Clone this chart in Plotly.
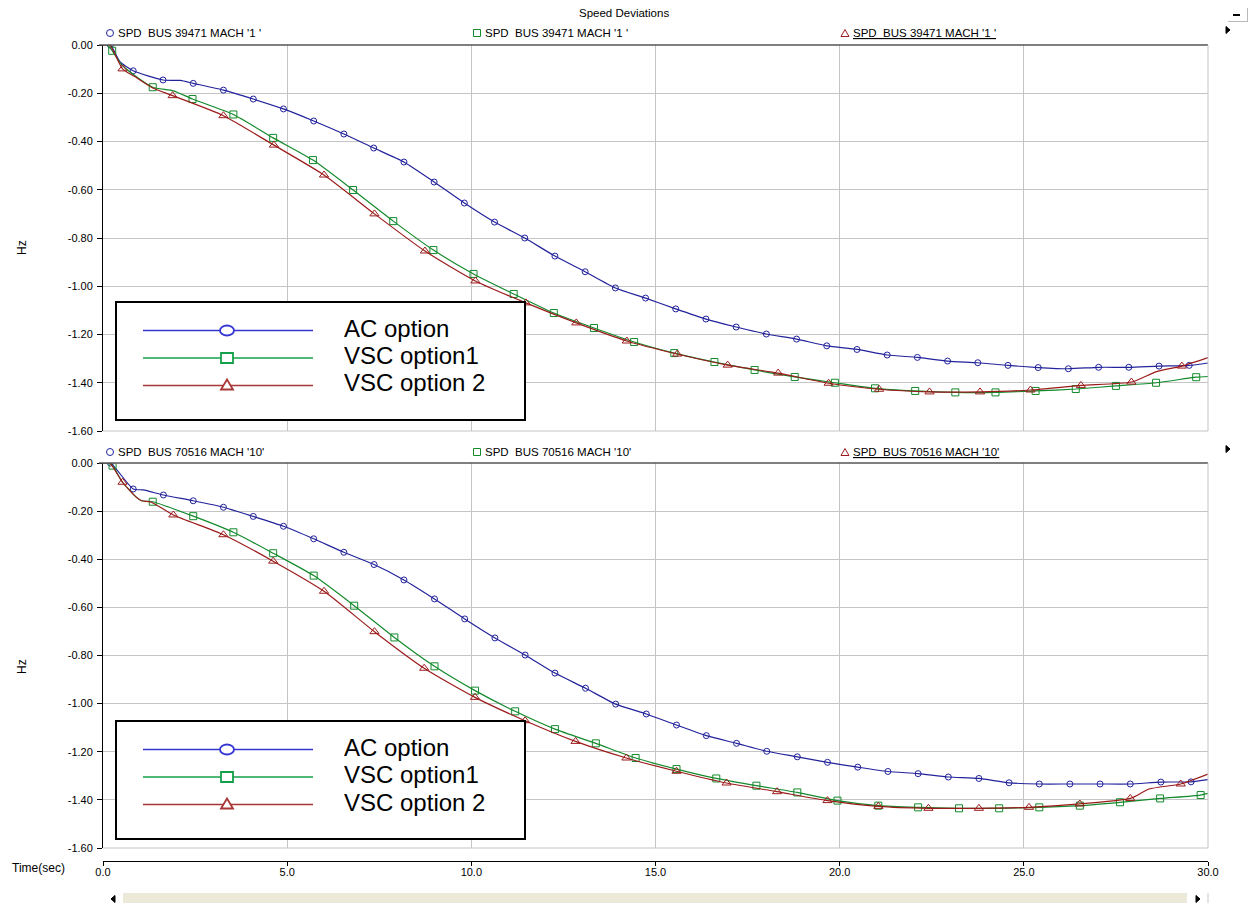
import plotly.graph_objects as go

W, H = 1249, 907          # window size in pixels
FW, FH = 1249, 903        # figure size

# ---------------- axis ticks ----------------
X_TICKS = [0, 5, 10, 15, 20, 25, 30]
X_TICK_TEXT = ["0.0", "5.0", "10.0", "15.0", "20.0", "25.0", "30.0"]
Y_TICKS = [0.0, -0.2, -0.4, -0.6, -0.8, -1.0, -1.2, -1.4, -1.6]
Y_TICK_TEXT = ["0.00", "-0.20", "-0.40", "-0.60", "-0.80", "-1.00", "-1.20", "-1.40", "-1.60"]

SERIES_NAMES = ["AC option", "VSC option1", "VSC option 2"]
TITLE = "Speed Deviations"
CHANNEL_TOP = "SPD\u00a0 BUS 39471 MACH '1 '"
CHANNEL_BOTTOM = "SPD\u00a0 BUS 70516 MACH '10'"

# ---------------- BUS 39471 (marker samples) ----------------
TOP_AC_T = [0.20, 0.82, 1.63, 2.45, 3.27, 4.08, 4.90, 5.72, 6.54, 7.35, 8.17, 8.99, 9.81,
            10.63, 11.45, 12.27, 13.09, 13.91, 14.73, 15.55, 16.37, 17.19, 18.01, 18.83,
            19.65, 20.47, 21.29, 22.11, 22.93, 23.75, 24.57, 25.39, 26.21, 27.03, 27.85,
            28.67, 29.49]
TOP_AC_V = [0.000, -0.107, -0.145, -0.159, -0.187, -0.224, -0.265, -0.315, -0.369, -0.427,
            -0.485, -0.568, -0.655, -0.734, -0.800, -0.875, -0.940, -1.007, -1.049, -1.094,
            -1.136, -1.169, -1.198, -1.219, -1.247, -1.262, -1.285, -1.295, -1.310, -1.317,
            -1.328, -1.337, -1.342, -1.336, -1.336, -1.331, -1.328]
TOP_VSC1_T = [0.25, 1.35, 2.43, 3.54, 4.62, 5.70, 6.79, 7.88, 8.97, 10.06, 11.15, 12.24,
              13.33, 14.42, 15.51, 16.60, 17.69, 18.78, 19.87, 20.96, 22.05, 23.14, 24.23,
              25.32, 26.41, 27.50, 28.59, 29.68]
TOP_VSC1_V = [-0.024, -0.175, -0.224, -0.288, -0.385, -0.477, -0.601, -0.730, -0.850, -0.949,
              -1.032, -1.111, -1.173, -1.231, -1.277, -1.314, -1.347, -1.376, -1.400, -1.423,
              -1.434, -1.440, -1.440, -1.434, -1.426, -1.413, -1.400, -1.377]
TOP_VSC2_T = [0.53, 1.89, 3.27, 4.64, 6.00, 7.37, 8.74, 10.11, 11.48, 12.85, 14.22, 15.59,
              16.96, 18.33, 19.70, 21.07, 22.44, 23.81, 25.18, 26.55, 27.92, 29.29]
TOP_VSC2_V = [-0.099, -0.210, -0.293, -0.415, -0.539, -0.700, -0.854, -0.978, -1.069, -1.152,
              -1.227, -1.281, -1.327, -1.360, -1.402, -1.427, -1.438, -1.438, -1.430, -1.411,
              -1.397, -1.331]

# extra recorded samples between markers (start-up transient and end of run)
TOP_AC_EXTRA_T = [0.0, 0.46, 2.10, 30.0]
TOP_AC_EXTRA_V = [0.0, -0.069, -0.147, -1.318]
TOP_VSC1_EXTRA_T = [0.0, 0.12, 0.51, 0.85, 1.91, 30.0]
TOP_VSC1_EXTRA_V = [0.0, 0.0, -0.083, -0.125, -0.190, -1.374]
TOP_VSC2_EXTRA_T = [0.0, 0.18, 0.85, 1.35, 28.60, 30.0]
TOP_VSC2_EXTRA_V = [0.0, 0.0, -0.130, -0.178, -1.354, -1.296]

# ---------------- BUS 70516 (marker samples) ----------------
BOT_AC_T = [0.20, 0.82, 1.64, 2.45, 3.27, 4.08, 4.90, 5.72, 6.54, 7.36, 8.17, 9.00, 9.82,
            10.64, 11.46, 12.27, 13.10, 13.92, 14.75, 15.57, 16.38, 17.20, 18.02, 18.85,
            19.67, 20.49, 21.31, 22.13, 22.95, 23.78, 24.60, 25.42, 26.25, 27.07, 27.89,
            28.72, 29.54]
BOT_AC_V = [0.000, -0.108, -0.133, -0.157, -0.184, -0.222, -0.263, -0.315, -0.371, -0.422,
            -0.486, -0.565, -0.648, -0.727, -0.798, -0.873, -0.936, -1.002, -1.043, -1.089,
            -1.133, -1.165, -1.198, -1.221, -1.244, -1.264, -1.282, -1.291, -1.305, -1.311,
            -1.329, -1.334, -1.334, -1.334, -1.334, -1.326, -1.325]
BOT_VSC1_T = [0.26, 1.35, 2.45, 3.54, 4.62, 5.72, 6.82, 7.91, 9.00, 10.10, 11.19, 12.27,
              13.38, 14.46, 15.57, 16.65, 17.74, 18.85, 19.94, 21.05, 22.13, 23.24, 24.33,
              25.42, 26.52, 27.61, 28.70, 29.80]
BOT_VSC1_V = [-0.011, -0.161, -0.221, -0.288, -0.375, -0.468, -0.593, -0.725, -0.845, -0.946,
              -1.032, -1.106, -1.165, -1.226, -1.272, -1.311, -1.341, -1.369, -1.403, -1.424,
              -1.431, -1.435, -1.435, -1.431, -1.424, -1.410, -1.394, -1.380]
BOT_VSC2_T = [0.53, 1.91, 3.27, 4.62, 6.00, 7.37, 8.72, 10.10, 11.46, 12.83, 14.21, 15.57,
              16.93, 18.30, 19.67, 21.05, 22.41, 23.78, 25.14, 26.52, 27.89, 29.26]
BOT_VSC2_V = [-0.080, -0.216, -0.298, -0.408, -0.533, -0.701, -0.853, -0.974, -1.071, -1.157,
              -1.226, -1.281, -1.330, -1.366, -1.403, -1.427, -1.435, -1.435, -1.431, -1.417,
              -1.394, -1.334]

BOT_AC_EXTRA_T = [0.0, 1.09, 30.0]
BOT_AC_EXTRA_V = [0.0, -0.112, -1.316]
BOT_VSC1_EXTRA_T = [0.0, 0.15, 0.53, 0.91, 1.05, 30.0]
BOT_VSC1_EXTRA_V = [0.0, 0.0, -0.080, -0.143, -0.157, -1.373]
BOT_VSC2_EXTRA_T = [0.0, 0.18, 0.91, 1.05, 1.30, 28.40, 30.0]
BOT_VSC2_EXTRA_V = [0.0, 0.0, -0.143, -0.157, -0.162, -1.355, -1.293]

# ---------------- styling ----------------
FONT = "Liberation Sans, Arial, sans-serif"
LINE_COLORS = ["#22229c", "#138a2b", "#9b1b1b"]
KEY_COLORS = ["#3535d2", "#14a04a", "#a83636"]
SYMBOLS = ["circle-open", "square-open", "triangle-up-open"]
SYMBOL_SIZES = [6, 7, 8]
GRID = "#c4c4c4"

TOP_Y0, TOP_Y1 = 45, 431      # page rows of upper plot area
BOT_Y0, BOT_Y1 = 463, 848     # page rows of lower plot area
PX_L, PX_R = 103, 1208


def fx(x):
    return x / FW


def fy(y):
    return 1 - y / FH


def merged(t, v, te, ve):
    pts = sorted(zip(list(t) + list(te), list(v) + list(ve)))
    return [p[0] for p in pts], [p[1] for p in pts]


fig = go.Figure()

panels = [
    ("x", "y", [(TOP_AC_T, TOP_AC_V, TOP_AC_EXTRA_T, TOP_AC_EXTRA_V),
                (TOP_VSC1_T, TOP_VSC1_V, TOP_VSC1_EXTRA_T, TOP_VSC1_EXTRA_V),
                (TOP_VSC2_T, TOP_VSC2_V, TOP_VSC2_EXTRA_T, TOP_VSC2_EXTRA_V)]),
    ("x2", "y2", [(BOT_AC_T, BOT_AC_V, BOT_AC_EXTRA_T, BOT_AC_EXTRA_V),
                  (BOT_VSC1_T, BOT_VSC1_V, BOT_VSC1_EXTRA_T, BOT_VSC1_EXTRA_V),
                  (BOT_VSC2_T, BOT_VSC2_V, BOT_VSC2_EXTRA_T, BOT_VSC2_EXTRA_V)]),
]

for xa, ya, series in panels:
    for i, (t, v, te, ve) in enumerate(series):
        lt, lv = merged(t, v, te, ve)
        fig.add_trace(go.Scatter(
            x=lt, y=lv, mode="lines", xaxis=xa, yaxis=ya, showlegend=False,
            line=dict(color=LINE_COLORS[i], width=1.2, shape="spline", smoothing=0.6),
            hoverinfo="skip"))
        fig.add_trace(go.Scatter(
            x=t, y=v, mode="markers", xaxis=xa, yaxis=ya, showlegend=False,
            name=SERIES_NAMES[i],
            marker=dict(symbol=SYMBOLS[i], size=SYMBOL_SIZES[i], color=LINE_COLORS[i],
                        line=dict(width=1, color=LINE_COLORS[i]))))

shapes = []
annotations = []


def hline(x0, x1, y, color, width=1):
    shapes.append(dict(type="line", xref="paper", yref="paper", x0=fx(x0), x1=fx(x1),
                       y0=fy(y), y1=fy(y), line=dict(color=color, width=width), layer="above"))


def vline(x, y0, y1, color, width=1):
    shapes.append(dict(type="line", xref="paper", yref="paper", x0=fx(x), x1=fx(x),
                       y0=fy(y0), y1=fy(y1), line=dict(color=color, width=width), layer="above"))


def tri_path(cx, cy, w, h, direction="up"):
    if direction == "up":
        pts = [(cx - w / 2, cy + h / 2), (cx + w / 2, cy + h / 2), (cx, cy - h / 2)]
    elif direction == "right":
        pts = [(cx - w / 2, cy - h / 2), (cx - w / 2, cy + h / 2), (cx + w / 2, cy)]
    else:
        pts = [(cx + w / 2, cy - h / 2), (cx + w / 2, cy + h / 2), (cx - w / 2, cy)]
    return "M" + " L".join(f"{fx(a):.5f},{fy(b):.5f}" for a, b in pts) + " Z"


def key_symbol(kind, cx, cy, color, w, h, lw):
    if kind == 0:
        shapes.append(dict(type="circle", xref="paper", yref="paper",
                           x0=fx(cx - w / 2), x1=fx(cx + w / 2), y0=fy(cy - h / 2), y1=fy(cy + h / 2),
                           line=dict(color=color, width=lw), fillcolor="white", layer="above"))
    elif kind == 1:
        shapes.append(dict(type="rect", xref="paper", yref="paper",
                           x0=fx(cx - w / 2), x1=fx(cx + w / 2), y0=fy(cy - h / 2), y1=fy(cy + h / 2),
                           line=dict(color=color, width=lw), fillcolor="white", layer="above"))
    else:
        shapes.append(dict(type="path", xref="paper", yref="paper", path=tri_path(cx, cy, w, h),
                           line=dict(color=color, width=lw), fillcolor="white", layer="above"))


def text(x, y, s, size=11, xanchor="left", yanchor="middle", angle=0, color="black"):
    annotations.append(dict(x=fx(x), y=fy(y), xref="paper", yref="paper", text=s,
                            showarrow=False, xanchor=xanchor, yanchor=yanchor, textangle=angle,
                            font=dict(family=FONT, size=size, color=color)))


# plot frames: dark top edge, light right and bottom edges
for y0, y1 in [(TOP_Y0, TOP_Y1), (BOT_Y0, BOT_Y1)]:
    hline(99, PX_R, y0, "#555555", 1.5)
    vline(PX_R, y0, y1, GRID, 1)
    hline(PX_L, PX_R, y1, GRID, 1)

# channel headers above each plot
text(624, 13, TITLE, size=11.5, xanchor="center")
for yrow, chan in [(33, CHANNEL_TOP), (452, CHANNEL_BOTTOM)]:
    key_symbol(0, 110, yrow, LINE_COLORS[0], 7, 7, 1)
    text(116, yrow, chan, size=11.5)
    key_symbol(1, 477, yrow, LINE_COLORS[1], 7, 7, 1)
    text(483, yrow, chan, size=11.5)
    key_symbol(2, 845, yrow, LINE_COLORS[2], 8, 7, 1)
    text(851, yrow, "<u>" + chan + "</u>", size=11.5)
    shapes.append(dict(type="path", xref="paper", yref="paper",
                       path=tri_path(1228, yrow - 3, 4, 7, "right"),
                       line=dict(color="black", width=1), fillcolor="black", layer="above"))

# y-axis titles and time label
text(22, 248, "Hz", size=12, xanchor="center", angle=-90)
text(22, 667, "Hz", size=12, xanchor="center", angle=-90)
text(10, 868, "Time(sec)", size=12)

# legend boxes
for top in [302, 721]:
    shapes.append(dict(type="rect", xref="paper", yref="paper",
                       x0=fx(116), x1=fx(525), y0=fy(top), y1=fy(top + 118),
                       line=dict(color="black", width=2), fillcolor="white", layer="above"))
    for i, name in enumerate(SERIES_NAMES):
        yl = top + 28.5 + i * 27.5
        hline(143, 313, yl, KEY_COLORS[i], 1.6)
        if i == 0:
            key_symbol(0, 227, yl, KEY_COLORS[i], 14, 10, 1.8)
        elif i == 1:
            key_symbol(1, 227, yl, KEY_COLORS[i], 12, 10, 1.8)
        else:
            key_symbol(2, 227, yl - 1, KEY_COLORS[i], 12, 10, 1.8)
        text(342, yl - 2.5, name, size=24)

# scroll bar and window button
shapes.append(dict(type="rect", xref="paper", yref="paper", x0=fx(123), x1=fx(1187),
                   y0=fy(893), y1=fy(907), line=dict(width=0), fillcolor="#ece9d8", layer="above"))
vline(1208, 893, 907, "#c8c8c8", 1)
shapes.append(dict(type="path", xref="paper", yref="paper", path=tri_path(113, 899, 4, 7, "left"),
                   line=dict(color="black", width=1), fillcolor="black", layer="above"))
shapes.append(dict(type="path", xref="paper", yref="paper", path=tri_path(1198, 899, 4, 7, "right"),
                   line=dict(color="black", width=1), fillcolor="black", layer="above"))
hline(1228, 1248, 21.5, "#b8b8b8", 1)
vline(1247.5, 8, 22, "#b8b8b8", 1)
hline(1233, 1240, 15, "black", 2)

axis_common = dict(range=[0, 30], tickvals=X_TICKS, showgrid=True, gridcolor=GRID, gridwidth=1,
                   zeroline=False, domain=[fx(PX_L), fx(PX_R)], automargin=False)
yaxis_common = dict(range=[-1.6, 0], tickvals=Y_TICKS, ticktext=Y_TICK_TEXT, showgrid=True,
                    gridcolor=GRID, gridwidth=1, zeroline=False, ticks="outside", ticklen=5,
                    tickcolor="black", showline=True, linecolor="black", linewidth=1,
                    automargin=False, ticklabelstandoff=2,
                    tickfont=dict(family=FONT, size=11, color="black"))

fig.update_layout(
    width=FW, height=FH, margin=dict(l=0, r=0, t=0, b=0, autoexpand=False),
    paper_bgcolor="white", plot_bgcolor="white",
    font=dict(family=FONT, size=11, color="black"),
    showlegend=False,
    xaxis=dict(**axis_common, anchor="y", showticklabels=False, ticks=""),
    yaxis=dict(**yaxis_common, anchor="x", domain=[fy(TOP_Y1), fy(TOP_Y0)]),
    xaxis2=dict(**axis_common, anchor="free", position=fy(861), ticktext=X_TICK_TEXT,
                ticks="outside", ticklen=4, tickcolor="black", showline=True,
                linecolor="black", linewidth=1, ticklabelstandoff=-3,
                tickfont=dict(family=FONT, size=11, color="black")),
    yaxis2=dict(**yaxis_common, anchor="x2", domain=[fy(BOT_Y1), fy(BOT_Y0)]),
    shapes=shapes,
    annotations=annotations,
)

fig.write_html("out.html")
